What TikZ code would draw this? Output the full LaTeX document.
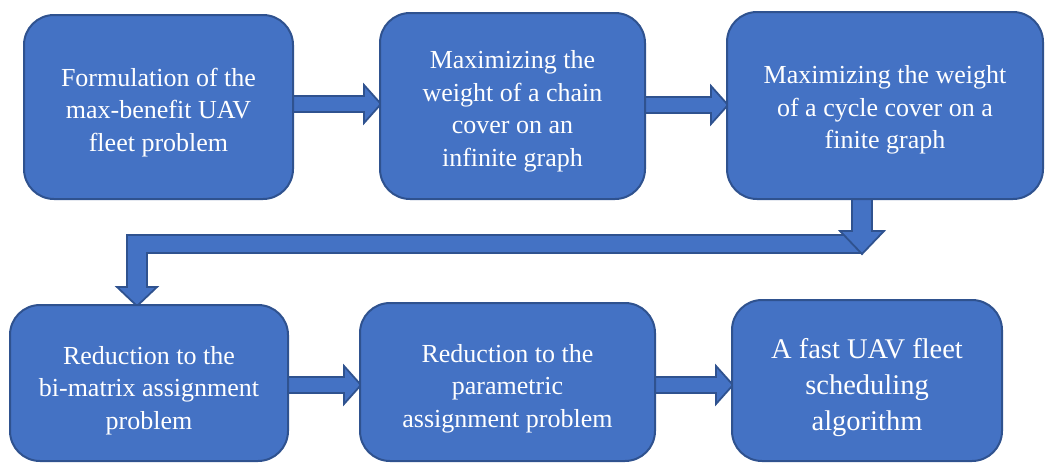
\documentclass[tikz,border=0pt]{standalone}
\usepackage{fontspec}
\setmainfont{Liberation Serif}
\usetikzlibrary{calc,backgrounds}
\definecolor{boxfill}{HTML}{4472C4}
\definecolor{boxline}{HTML}{2F528F}
\tikzset{
  stage/.style={draw=boxline, fill=boxfill, line width=2pt, rounded corners=30pt,
    text=white, inner sep=0pt,
    font=\fontsize{26}{32.5}\selectfont},
  flow/.style={draw=boxline, fill=boxfill, line width=1.8pt, line join=miter},
}
% centred lines of a box, lowered by #1 pt without changing the box size
\newcommand\lines[2]{\raisebox{-#1pt}[\height][\depth]{\begin{tabular}{@{}c@{}}#2\end{tabular}}}
% block arrow pointing right, from node #1 to node #2 at the height of coordinate #3
\newcommand\rightflow[3]{%
  \draw[flow] ($(#1.east |- #3)+(-4,-8)$) -- ($(#2.west |- #3)+(-15,-8)$)
    -- ($(#2.west |- #3)+(-15,-19)$) -- ($(#2.west |- #3)+(2,0)$)
    -- ($(#2.west |- #3)+(-15,19)$) -- ($(#2.west |- #3)+(-15,8)$)
    -- ($(#1.east |- #3)+(-4,8)$) -- cycle;}
\begin{document}
\begin{tikzpicture}[x=1pt,y=-1pt]
\useasboundingbox (0,0) rectangle (1045,463);

% top row
\node[stage, minimum width=269pt, minimum height=184pt] (b1) at (158.5,107)
  {\lines{5}{Formulation of the\\max-benefit UAV\\fleet problem}};
\node[stage, minimum width=265pt, minimum height=186pt] (b2) at (512.5,106)
  {\lines{5}{Maximizing the\\weight of a chain\\cover on an\\infinite graph}};
\node[stage, minimum width=316pt, minimum height=187pt] (b3) at (885,105.5)
  {\lines{4}{Maximizing the weight\\of a cycle cover on a\\finite graph}};

% bottom row
\node[stage, minimum width=278pt, minimum height=156pt] (b4) at (149,383)
  {\lines{7}{Reduction to the\\bi-matrix assignment\\problem}};
\node[stage, minimum width=295pt, minimum height=158pt] (b5) at (507.5,382)
  {\lines{6}{Reduction to the\\parametric\\assignment problem}};
\node[stage, minimum width=270pt, minimum height=161pt, font=\fontsize{28.5}{36}\selectfont]
  (b6) at (867,380.5)
  {\lines{7}{A fast UAV fleet\\scheduling\\algorithm}};

% levels of the horizontal arrows and of the return path
\coordinate (top1) at (0,104);
\coordinate (top2) at (0,105);
\coordinate (low) at (0,385);
\coordinate (drop) at (862,0);
\coordinate (land) at (137,0);
\coordinate (bend) at (137,244);

\begin{scope}[on background layer]
  \rightflow{b1}{b2}{top1}
  \rightflow{b2}{b3}{top2}
  \rightflow{b4}{b5}{low}
  \rightflow{b5}{b6}{low}
  % return path from the top row down to the bottom row
  \draw[flow] ($(bend -| drop)+(-2,-9)$) -- ($(bend)+(-10,-9)$)
    -- ($(b4.north -| land)+(-10,-17)$) -- ($(b4.north -| land)+(-20,-17)$)
    -- ($(b4.north -| land)+(0,2)$) -- ($(b4.north -| land)+(20,-17)$)
    -- ($(b4.north -| land)+(10,-17)$) -- ($(bend)+(10,9)$)
    -- ($(bend -| drop)+(-2,9)$) -- cycle;
  \draw[flow] ($(b3.south -| drop)+(-10,-4)$) -- ($(b3.south -| drop)+(-10,31)$)
    -- ($(b3.south -| drop)+(-22,31)$) -- ($(b3.south -| drop)+(0,54)$)
    -- ($(b3.south -| drop)+(22,31)$) -- ($(b3.south -| drop)+(10,31)$)
    -- ($(b3.south -| drop)+(10,-4)$) -- cycle;
\end{scope}
\end{tikzpicture}
\end{document}
